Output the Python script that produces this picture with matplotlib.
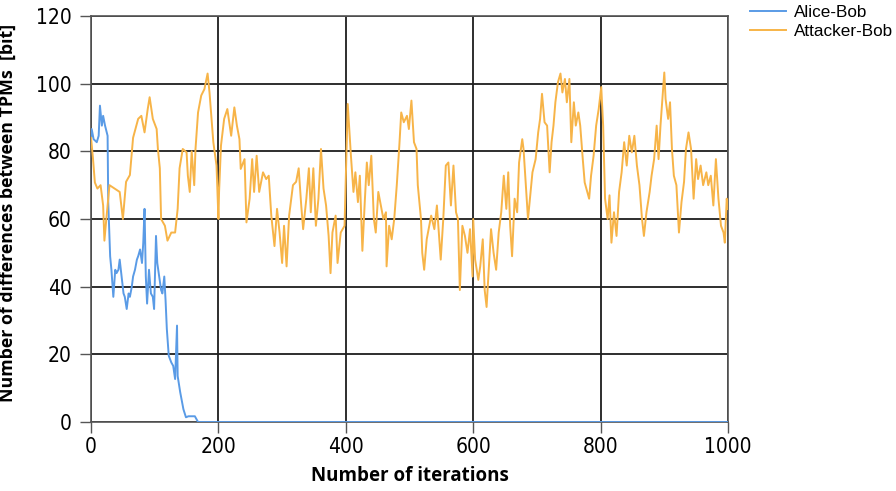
import matplotlib
matplotlib.use("Agg")
import matplotlib.pyplot as plt

# Alice-Bob: difference between the two TPMs
ab_iter = [0, 1, 4, 9, 12, 14, 17, 19, 22, 26, 27, 30, 32, 35, 38, 40, 43, 45, 48, 51,
           53, 56, 59, 61, 64, 66, 69, 72, 74, 77, 80, 82, 84, 86, 88, 91, 94, 97, 99, 102,
           104, 107, 110, 112, 115, 117, 119, 122, 126, 129, 132, 135, 136, 140, 145, 149,
           153, 163, 168, 1000]
ab_diff = [84, 86.6, 83.6, 82.7, 84.6, 93.5, 87.6, 90.5, 87.6, 84.6, 65, 49, 45, 37, 45, 44,
           45, 48, 43, 38, 37, 33.4, 38, 37, 40, 43, 45, 48, 49, 51, 47, 53, 63, 43, 35, 45,
           38, 37, 33.4, 55, 47, 43, 39, 38, 43, 36, 27.5, 19.6, 17.6, 16.6, 12.7, 28.5, 13.6,
           8.8, 3.8, 1.4, 1.7, 1.7, 0, 0]

# Attacker-Bob
at_iter = [0, 3, 6, 10, 15, 19, 21, 24, 29, 37, 45, 50, 55, 61, 66, 74, 79, 84, 89, 92,
           97, 103, 105, 108, 110, 116, 120, 126, 132, 136, 139, 144, 150, 152, 155, 158,
           162, 164, 168, 173, 178, 183, 186, 192, 197, 200,
           201, 204, 209, 214, 220, 225, 229, 233, 235, 241, 244, 249, 253, 256, 260, 264,
           270, 275, 279, 283, 288, 292, 296, 300, 303, 307, 311, 317, 322, 326, 330, 333,
           338, 342, 345, 349, 353, 357, 361, 365, 369, 373, 376, 379, 384, 387, 392, 398,
           400, 403, 408, 412, 415, 419, 422, 426, 430, 433, 436, 440, 444, 447, 451, 455,
           459, 463, 464, 468, 472, 476, 480, 484, 487, 491, 496, 499, 503, 507, 511, 513,
           518, 520, 523, 527, 531, 534, 539, 543, 546, 549, 553, 557, 561, 565, 569, 573,
           576, 579, 583, 587, 591, 595, 599,
           600, 603, 608, 611, 615, 618, 621, 624, 628, 632, 636, 640, 644, 648, 652, 655,
           658, 661, 665, 669, 672, 677, 679, 682, 686, 690, 693, 698, 702, 705, 708, 712,
           716, 720, 723, 726, 729, 733, 737, 740, 744, 747, 751, 754, 758, 761, 765, 768,
           772, 775, 779, 782, 785, 789, 793, 797,
           801, 804, 807, 811, 814, 817, 821, 825, 829, 833, 837, 841, 845, 849, 853, 857,
           861, 865, 868, 872, 877, 880, 884, 888, 891, 894, 897, 900, 902, 906, 909, 912,
           915, 919, 923, 927, 931, 934, 938, 942, 946, 950, 953, 957, 961, 966, 969, 973,
           977, 981, 985, 989, 993, 995, 998, 1000]
at_diff = [84, 78, 70.8, 69, 70, 64, 53.6, 60, 70, 69, 68, 60, 71, 73, 84, 89.6, 90.5, 85.6,
           92.5, 96, 89.6, 86.6, 80.7, 75, 60, 58, 53.6, 56, 56, 63, 75, 80.7, 79.7, 72.8, 68,
           80, 70, 80.7, 91.5, 96.5, 98.4, 103, 97.4, 82.7, 75.8, 60,
           68, 81.7, 89.6, 92.5, 84.6, 93, 87.6, 83.6, 74.8, 77.7, 59, 66, 77.7, 68, 78.7, 68,
           73.8, 71.8, 72.8, 61, 52, 63, 56, 47, 58, 46, 61, 70, 71, 75, 64, 57,
           66, 75, 62, 75, 58, 66, 80.7, 69, 64, 55, 44, 56, 61, 47, 56, 58,
           72.8, 94, 78.7, 68, 73.8, 65, 72.8, 50.6, 66, 76.7, 70, 78.7, 60, 56, 68, 64,
           60, 62, 46, 58, 54, 60, 70, 81.7, 91.5, 88.6, 90.5, 86.6, 95, 82.7, 80.7, 70,
           60, 50, 45, 54, 58, 61, 57, 64, 56, 48, 60, 75.8, 76.7, 64, 75.8, 62,
           60, 39, 58, 55, 50, 57, 43,
           60, 48, 42, 46, 54, 39, 34, 44, 57, 50, 45, 56, 62, 72.8, 63, 73.8,
           58, 49, 66, 62, 76.7, 83.6, 80.7, 71.8, 60, 68, 73.8, 77.7, 85.6, 89.6, 97, 88.6,
           87.6, 73.8, 82.7, 87.6, 94.5, 100.4, 103, 97.4, 101.4, 94.5, 101.4, 82.7, 94.5, 87.6, 91.5, 87.6,
           77.7, 70.8, 68, 66, 72.8, 78.7, 87.6, 92.5,
           99, 87.6, 66, 60, 67, 53, 62, 55, 68, 73.8, 82.7, 75.8, 84.6, 79.7, 84.6, 75.8,
           70, 60, 55, 62, 68, 72.8, 77.7, 87.6, 77.7, 87.6, 95.5, 103.3, 95.5, 89.6, 94.5, 80.7,
           72.8, 70, 56, 65, 71, 80.7, 85.6, 80.7, 66, 77.7, 71.8, 75.8, 70, 73.8, 70, 72.8,
           64, 77.7, 66, 58, 56, 53, 66, 63]

x_ticks = [0, 200, 400, 600, 800, 1000]
y_ticks = [0, 20, 40, 60, 80, 100, 120]

fig = plt.figure(figsize=(8.96, 4.91), dpi=100)
ax = fig.add_axes([0.1016, 0.1405, 0.7109, 0.8269])

ax.plot(ab_iter, ab_diff, color="#5a9be6", lw=1.4, label="Alice-Bob", zorder=3)
ax.plot(at_iter, at_diff, color="#f7b448", lw=1.4, label="Attacker-Bob", zorder=3)

ax.set_xlim(0, 1000)
ax.set_ylim(0, 120)
ax.set_xticks(x_ticks)
ax.set_yticks(y_ticks)
ax.grid(True, color="#1e1e1e", lw=1.3)
ax.set_axisbelow(True)
for s in ax.spines.values():
    s.set_color("#555555")
    s.set_linewidth(1.2)
ax.tick_params(length=8, width=1, color="#555555")
ax.tick_params(axis="y", pad=6)
ax.tick_params(axis="x", pad=3)
for lab in ax.get_xticklabels() + ax.get_yticklabels():
    lab.set_fontfamily("DejaVu Sans")
    lab.set_fontstretch("condensed")
    lab.set_fontsize(15)

ax.set_xlabel("Number of iterations", fontfamily="Open Sans", fontweight="bold",
              fontsize=13.5)
ax.xaxis.set_label_coords(0.5, -0.108)
ax.set_ylabel("Number of differences between TPMs  [bit]", fontfamily="Open Sans",
              fontweight="bold", fontsize=12.8)
ax.yaxis.set_label_coords(-0.116, 0.515)

fig.legend(loc="upper left", bbox_to_anchor=(0.837, 0.99), frameon=False,
           prop={"family": "Liberation Sans", "size": 12.3}, handlelength=2.1,
           labelspacing=0.25, handletextpad=0.45, borderpad=0, borderaxespad=0)

fig.savefig("out.png", dpi=100)
